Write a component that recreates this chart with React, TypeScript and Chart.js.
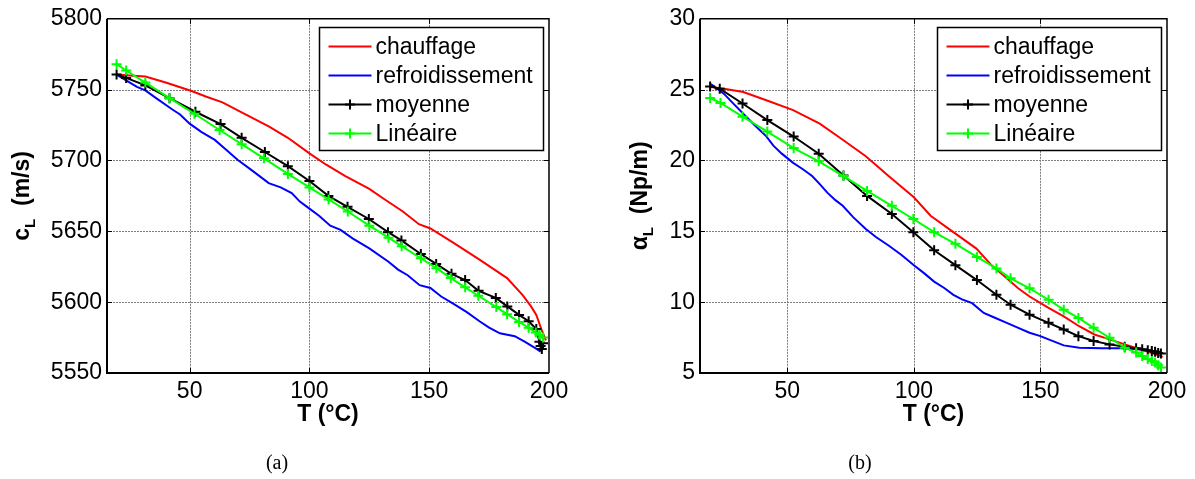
import React, { useEffect, useRef } from 'react';
import { Chart, registerables } from 'chart.js';

Chart.register(...registerables);

const FONT = "'Liberation Sans', Arial, Helvetica, sans-serif";

// ---------- shared ----------
const xTicks = [50, 100, 150, 200];
const legendLabels = ['chauffage', 'refroidissement', 'moyenne', 'Linéaire'];
const seriesColors = ['#ff0000', '#0000ff', '#000000', '#00ff00'];

// ---------- (a) c_L (m/s) ----------
const yTicksA = [5550, 5600, 5650, 5700, 5750, 5800];
const heatT_a = [19.6, 25, 31.5, 40, 50.8, 57, 63.7, 71.7, 83, 91, 100, 107, 115, 125, 131, 139, 145.7, 150.5, 160, 171, 182.5, 189, 192.5, 194.7, 197, 198.7];
const heatV_a = [5760.7, 5760, 5759.3, 5755, 5749, 5745, 5741, 5734, 5724, 5716, 5705, 5697, 5689, 5680, 5673, 5664, 5655, 5652, 5642, 5630, 5617, 5605, 5597, 5591, 5580, 5573];
const coolT_a = [20, 24, 28, 31.5, 36, 42.8, 46, 50, 55, 60.5, 65, 70, 76, 83, 88, 92.6, 96, 100, 104, 108.7, 113, 118, 125, 133, 137, 141, 146, 150.5, 155, 160, 165.7, 171, 175, 179.5, 185.7, 190, 194.8, 196.5];
const coolV_a = [5760, 5756, 5752, 5749.5, 5744, 5736, 5732.5, 5726, 5720, 5714.5, 5708, 5700.5, 5693, 5684, 5681, 5677, 5671, 5666, 5661, 5654, 5651, 5645, 5638, 5628.5, 5623, 5619, 5612, 5610, 5604, 5599, 5593, 5586.5, 5582, 5578, 5576, 5572, 5567, 5565];
const meanT_a = [19.5, 23.5, 31.5, 41.6, 52.4, 62.9, 71.7, 81.4, 91, 100, 107.9, 115.9, 124.8, 132.8, 138.4, 146.5, 152.9, 159.3, 165, 170.6, 177.8, 182.6, 187.5, 191.5, 194.7, 196, 196.5, 197, 197.5];
const meanV_a = [5760.7, 5758.3, 5753, 5744, 5734.4, 5725.7, 5716, 5706, 5696, 5685.5, 5675, 5667.3, 5658.7, 5649.4, 5643.6, 5634, 5627, 5620, 5615.6, 5608, 5603, 5597, 5591, 5586.5, 5581, 5572, 5569, 5567, 5571];
const linT_a = [19.5, 23.5, 31.5, 41.6, 52, 62.5, 71.7, 81, 91, 100, 108, 116, 125, 133, 138.5, 146.5, 153, 159, 165, 170.5, 178, 182.5, 187.5, 191.5, 194.5, 196, 197.5];
const linV_a = [5768, 5763.5, 5755, 5744, 5733, 5721.5, 5711.5, 5701.5, 5690.5, 5681, 5672.5, 5664, 5654, 5645.5, 5639.5, 5631, 5624, 5617, 5610.5, 5604.5, 5596.5, 5591.5, 5586, 5582, 5578.5, 5577, 5575];

// ---------- (b) alpha_L (Np/m) ----------
const yTicksB = [5, 10, 15, 20, 25, 30];
const heatT_b = [19.8, 25, 32.6, 41.7, 52.3, 62.8, 71.9, 81, 90, 100, 106.6, 115.6, 124.7, 130.7, 136.7, 141.2, 145.7, 153.2, 159.2, 165.3, 171.3, 177.3, 183.3, 189.3, 195.3, 198.3];
const heatV_b = [25.18, 25.07, 24.83, 24.25, 23.55, 22.6, 21.46, 20.3, 18.9, 17.4, 16.1, 14.94, 13.78, 12.6, 11.68, 10.98, 10.4, 9.59, 9.0, 8.3, 7.72, 7.37, 7.02, 6.68, 6.33, 6.14];
const coolT_b = [19.8, 25, 28.5, 32.6, 37, 41.7, 44.5, 47.7, 52.3, 56, 59.8, 63, 65.8, 69, 71.9, 76, 81, 85, 90, 95, 100, 104, 108, 112, 115.6, 119, 123, 127.6, 132, 136.7, 141, 145.7, 150, 153.2, 159.2, 165.3, 174.3, 181.8, 189.3, 195.3];
const coolV_b = [25.4, 24.7, 24.05, 23.3, 22.5, 21.7, 21.05, 20.5, 19.83, 19.4, 18.9, 18.3, 17.73, 17.2, 16.8, 16.0, 15.17, 14.6, 14.0, 13.35, 12.6, 12.05, 11.45, 11.0, 10.52, 10.2, 9.93, 9.24, 8.9, 8.54, 8.2, 7.84, 7.6, 7.37, 6.95, 6.79, 6.75, 6.75, 6.68, 6.5];
const meanT_b = [19.5, 23.3, 32.3, 42.1, 52.5, 62.4, 72.2, 81.5, 91.3, 99.8, 108, 116.4, 124.9, 132.6, 138.2, 145.7, 153.2, 159.2, 165, 171, 177.3, 183.3, 187.8, 190.2, 192.4, 194, 195.3, 196.5, 197.6];
const meanV_b = [25.23, 25.07, 24.02, 22.85, 21.69, 20.48, 18.94, 17.5, 16.22, 14.94, 13.66, 12.61, 11.56, 10.52, 9.82, 9.12, 8.54, 8.07, 7.6, 7.26, 7.02, 6.86, 6.75, 6.68, 6.61, 6.55, 6.5, 6.42, 6.37];
const linT_b = [19.5, 23.6, 32.3, 42.1, 52.5, 62.4, 72.2, 81.5, 91.3, 99.8, 108, 116.4, 124.9, 132.6, 138.2, 145.7, 153.2, 159.2, 165, 171, 177.3, 183.3, 187.8, 190.2, 192.4, 194, 195.3, 196.5, 197.6];
const linV_b = [24.41, 24.06, 23.09, 22.04, 20.88, 19.94, 18.9, 17.85, 16.8, 15.87, 14.94, 14.12, 13.19, 12.38, 11.68, 10.98, 10.17, 9.47, 8.89, 8.19, 7.49, 6.79, 6.44, 6.2, 5.98, 5.85, 5.74, 5.55, 5.39];

const pts = (xs: number[], ys: number[]) => xs.map((x, i) => ({ x, y: ys[i] }));

type PanelCfg = {
  canvasLeft: number;
  canvasWidth: number;
  plotLeft: number; // in canvas coords
  plotRight: number;
  yMin: number;
  yMax: number;
  yTicks: number[];
  series: { x: number; y: number }[][];
  yTitleMain: string;
  yTitleSub: string;
  yTitleRest: string;
  yTitleX: number;
};

const CANVAS_H = 479;
const PLOT_TOP = 14;
const PLOT_BOTTOM = 373;

function drawPlus(ctx: CanvasRenderingContext2D, x: number, y: number, r: number) {
  ctx.beginPath();
  ctx.moveTo(x - r, y);
  ctx.lineTo(x + r, y);
  ctx.moveTo(x, y - r);
  ctx.lineTo(x, y + r);
  ctx.stroke();
}

function makePlugin(cfg: PanelCfg) {
  return {
    id: 'matlabDecor',
    beforeDatasetsDraw(chart: any) {
      const ctx: CanvasRenderingContext2D = chart.ctx;
      const { left, right, top, bottom } = chart.chartArea;
      const xs = chart.scales.x;
      const ys = chart.scales.y;
      ctx.save();
      ctx.strokeStyle = '#7c7c7c';
      ctx.lineWidth = 1;
      ctx.setLineDash([2, 1]);
      xTicks.forEach((v) => {
        const px = Math.round(xs.getPixelForValue(v)) + 0.5;
        if (px > left + 1 && px < right - 1) {
          ctx.beginPath();
          ctx.moveTo(px, top);
          ctx.lineTo(px, bottom);
          ctx.stroke();
        }
      });
      cfg.yTicks.forEach((v) => {
        const py = Math.round(ys.getPixelForValue(v)) + 0.5;
        if (py > top + 1 && py < bottom - 1) {
          ctx.beginPath();
          ctx.moveTo(left, py);
          ctx.lineTo(right, py);
          ctx.stroke();
        }
      });
      ctx.restore();
    },
    afterDatasetsDraw(chart: any) {
      const ctx: CanvasRenderingContext2D = chart.ctx;
      const { left, right, top, bottom } = chart.chartArea;
      const xs = chart.scales.x;
      const ys = chart.scales.y;
      ctx.save();
      ctx.strokeStyle = '#000';
      // inward ticks
      ctx.lineWidth = 1;
      const tl = 5;
      xTicks.forEach((v) => {
        const px = Math.round(xs.getPixelForValue(v)) + 0.5;
        if (px > left + 1 && px < right - 1) {
          ctx.beginPath();
          ctx.moveTo(px, bottom);
          ctx.lineTo(px, bottom - tl);
          ctx.moveTo(px, top);
          ctx.lineTo(px, top + tl);
          ctx.stroke();
        }
      });
      cfg.yTicks.forEach((v) => {
        const py = Math.round(ys.getPixelForValue(v)) + 0.5;
        if (py > top + 1 && py < bottom - 1) {
          ctx.beginPath();
          ctx.moveTo(left, py);
          ctx.lineTo(left + tl, py);
          ctx.moveTo(right, py);
          ctx.lineTo(right - tl, py);
          ctx.stroke();
        }
      });
      // frame
      ctx.lineWidth = 1.5;
      ctx.beginPath();
      ctx.moveTo(left, top);
      ctx.lineTo(right, top);
      ctx.lineTo(right, bottom);
      ctx.stroke();
      ctx.lineWidth = 2;
      ctx.beginPath();
      ctx.moveTo(left, top);
      ctx.lineTo(left, bottom);
      ctx.lineTo(right, bottom);
      ctx.stroke();

      // legend
      const bw = 224;
      const bh = 123;
      const bx = Math.round(right - 6 - bw) + 0.5;
      const by = Math.round(top + 8) + 0.5;
      ctx.fillStyle = '#fff';
      ctx.fillRect(bx, by, bw, bh);
      ctx.lineWidth = 1.5;
      ctx.strokeStyle = '#000';
      ctx.strokeRect(bx, by, bw, bh);
      ctx.font = `23px ${FONT}`;
      ctx.textBaseline = 'middle';
      ctx.textAlign = 'left';
      legendLabels.forEach((lab, i) => {
        const cy = by + 19 + i * 29;
        ctx.strokeStyle = seriesColors[i];
        ctx.lineWidth = 2;
        ctx.beginPath();
        ctx.moveTo(bx + 9, cy);
        ctx.lineTo(bx + 52, cy);
        ctx.stroke();
        if (i >= 2) drawPlus(ctx, bx + 30.5, cy, 5);
        ctx.fillStyle = '#000';
        ctx.fillText(lab, bx + 56, cy + 1);
      });

      // x title
      ctx.fillStyle = '#000';
      ctx.font = `bold 23px ${FONT}`;
      ctx.textAlign = 'center';
      ctx.textBaseline = 'middle';
      ctx.fillText('T (°C)', (left + right) / 2, 415);

      // y title (rotated, with subscript)
      const mainFont = `bold 23px ${FONT}`;
      const subFont = `bold 15px ${FONT}`;
      ctx.font = mainFont;
      const w1 = ctx.measureText(cfg.yTitleMain).width;
      const w3 = ctx.measureText(cfg.yTitleRest).width;
      ctx.font = subFont;
      const w2 = ctx.measureText(cfg.yTitleSub).width;
      const total = w1 + w2 + w3;
      ctx.translate(cfg.yTitleX, (top + bottom) / 2);
      ctx.rotate(-Math.PI / 2);
      ctx.textAlign = 'left';
      ctx.textBaseline = 'middle';
      let x0 = -total / 2;
      ctx.font = mainFont;
      ctx.fillText(cfg.yTitleMain, x0, -2);
      x0 += w1;
      ctx.font = subFont;
      ctx.fillText(cfg.yTitleSub, x0, 6);
      x0 += w2;
      ctx.font = mainFont;
      ctx.fillText(cfg.yTitleRest, x0, -2);
      ctx.restore();
    },
  };
}

function Panel({ cfg }: { cfg: PanelCfg }) {
  const ref = useRef<HTMLCanvasElement>(null);
  useEffect(() => {
    if (!ref.current) return;
    const datasets = cfg.series.map((data, i) => ({
      label: legendLabels[i],
      data,
      borderColor: seriesColors[i],
      backgroundColor: seriesColors[i],
      borderWidth: 2,
      pointStyle: 'cross' as const,
      pointRadius: i >= 2 ? 5 : 0,
      pointBorderWidth: 2,
      pointBorderColor: seriesColors[i],
      tension: 0,
      fill: false,
      order: 3 - i,
    }));
    const chart = new Chart(ref.current, {
      type: 'line',
      data: { datasets },
      plugins: [makePlugin(cfg)],
      options: {
        responsive: false,
        animation: false,
        events: [],
        layout: {
          padding: { top: PLOT_TOP, right: cfg.canvasWidth - cfg.plotRight, left: 0, bottom: 0 },
        },
        plugins: { legend: { display: false }, tooltip: { enabled: false } },
        scales: {
          x: {
            type: 'linear',
            min: 15.5,
            max: 200,
            afterBuildTicks: (s: any) => {
              s.ticks = xTicks.map((v) => ({ value: v }));
            },
            afterFit: (s: any) => {
              s.height = CANVAS_H - PLOT_BOTTOM;
            },
            grid: { display: false, drawTicks: false },
            border: { display: false },
            ticks: {
              color: '#000',
              font: { family: FONT, size: 23 },
              padding: 5,
              maxRotation: 0,
              autoSkip: false,
              callback: (v: any) => String(v),
            },
          },
          y: {
            type: 'linear',
            min: cfg.yMin,
            max: cfg.yMax,
            afterBuildTicks: (s: any) => {
              s.ticks = cfg.yTicks.map((v) => ({ value: v }));
            },
            afterFit: (s: any) => {
              s.width = cfg.plotLeft;
            },
            grid: { display: false, drawTicks: false },
            border: { display: false },
            ticks: {
              color: '#000',
              font: { family: FONT, size: 23 },
              padding: 5,
              autoSkip: false,
              callback: (v: any) => String(v),
            },
          },
        },
      } as any,
    });
    return () => chart.destroy();
  }, [cfg]);
  return (
    <canvas
      ref={ref}
      width={cfg.canvasWidth}
      height={CANVAS_H}
      style={{ position: 'absolute', left: cfg.canvasLeft, top: 0, width: cfg.canvasWidth, height: CANVAS_H }}
    />
  );
}

const panelA: PanelCfg = {
  canvasLeft: 0,
  canvasWidth: 597,
  plotLeft: 107,
  plotRight: 549,
  yMin: 5550,
  yMax: 5800,
  yTicks: yTicksA,
  series: [pts(heatT_a, heatV_a), pts(coolT_a, coolV_a), pts(meanT_a, meanV_a), pts(linT_a, linV_a)],
  yTitleMain: 'c',
  yTitleSub: 'L',
  yTitleRest: '  (m/s)',
  yTitleX: 25,
};

const panelB: PanelCfg = {
  canvasLeft: 597,
  canvasWidth: 598,
  plotLeft: 103,
  plotRight: 570,
  yMin: 5,
  yMax: 30,
  yTicks: yTicksB,
  series: [pts(heatT_b, heatV_b), pts(coolT_b, coolV_b), pts(meanT_b, meanV_b), pts(linT_b, linV_b)],
  yTitleMain: 'α',
  yTitleSub: 'L',
  yTitleRest: '  (Np/m)',
  yTitleX: 46,
};

const captionStyle: React.CSSProperties = {
  position: 'absolute',
  top: 450,
  width: 60,
  textAlign: 'center',
  fontFamily: "'Liberation Serif', 'Times New Roman', serif",
  fontSize: 20,
  lineHeight: '24px',
  color: '#000',
};

export default function App() {
  return (
    <div style={{ position: 'fixed', left: 0, top: 0, width: 1195, height: 479, background: '#fff', overflow: 'hidden' }}>
      <Panel cfg={panelA} />
      <Panel cfg={panelB} />
      <div style={{ ...captionStyle, left: 277 - 30 }}>(a)</div>
      <div style={{ ...captionStyle, left: 860 - 30 }}>(b)</div>
    </div>
  );
}
